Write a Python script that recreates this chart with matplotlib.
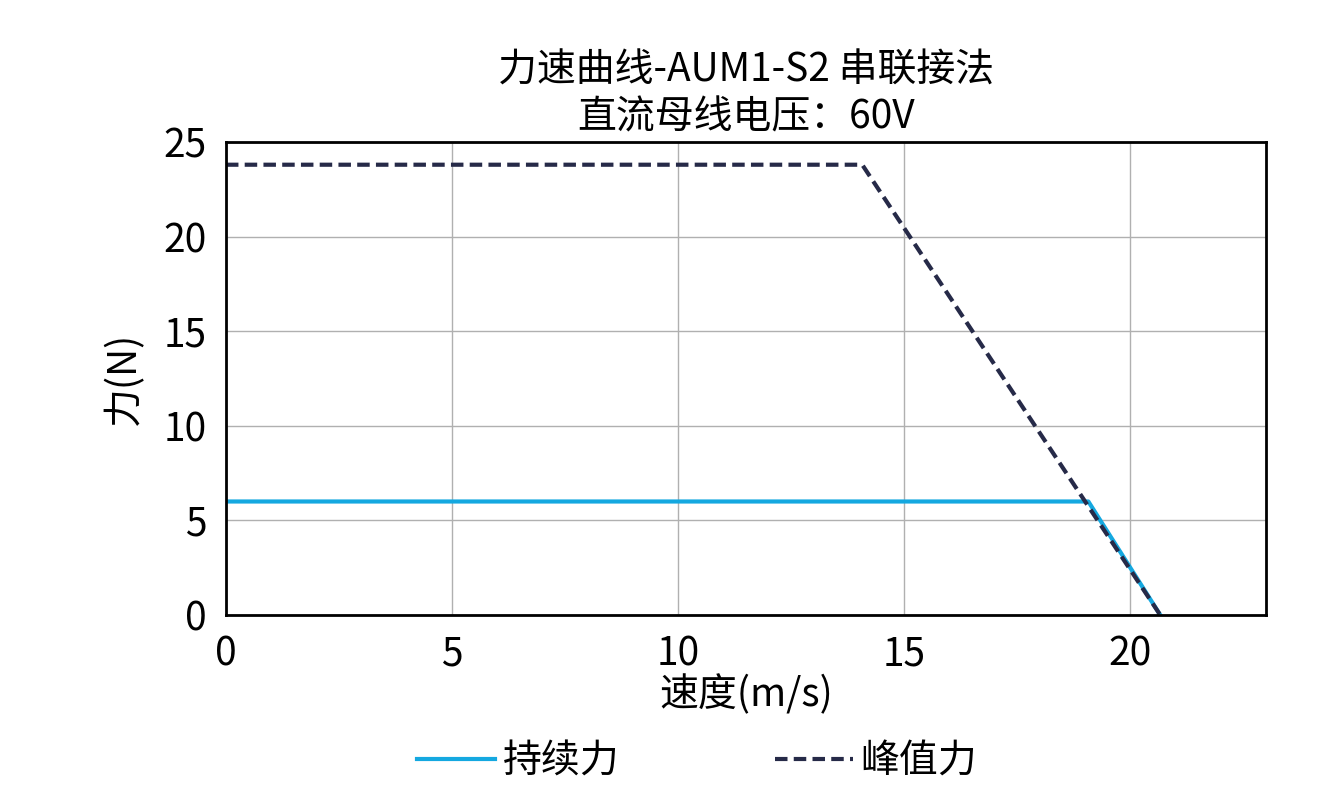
import matplotlib
matplotlib.use("Agg")
import matplotlib.pyplot as plt

plt.rcParams['font.family'] = ['Noto Sans CJK SC', 'DejaVu Sans']

peak_x = [0, 14.07, 20.66]
peak_y = [23.8, 23.8, 0]
cont_x = [0, 19.07, 20.66]
cont_y = [6, 6, 0]
xticks = [0, 5, 10, 15, 20]
yticks = [0, 5, 10, 15, 20, 25]

fig = plt.figure(figsize=(13.26, 8.01), dpi=100)
ax = fig.add_axes([0.1704, 0.2322, 0.7844, 0.5905])
ax.plot(cont_x, cont_y, color='#14a8e0', lw=3, label='持续力')
ax.plot(peak_x, peak_y, color='#262a48', lw=3, ls=(0, (3, 1.5)), label='峰值力')
ax.set_xlim(0, 23)
ax.set_ylim(0, 25)
ax.set_xticks(xticks)
ax.set_yticks(yticks)
ax.grid(True, color='#b0b0b0', lw=1)
for s in ax.spines.values():
    s.set_linewidth(2)
ax.tick_params(labelsize=28, length=0, pad=14)
ax.set_xlabel('速度(m/s)', fontsize=28, labelpad=0)
ax.set_ylabel('力(N)', fontsize=28, labelpad=14)
ax.set_title('力速曲线-AUM1-S2 串联接法\n直流母线电压：60V', fontsize=28, pad=10, linespacing=1.2)
ax.legend(loc='center', bbox_to_anchor=(0.453, -0.31), ncol=2, frameon=False,
          fontsize=28, handlelength=2.0, handletextpad=0.2, columnspacing=4.0)
fig.savefig('out.png', dpi=100)
